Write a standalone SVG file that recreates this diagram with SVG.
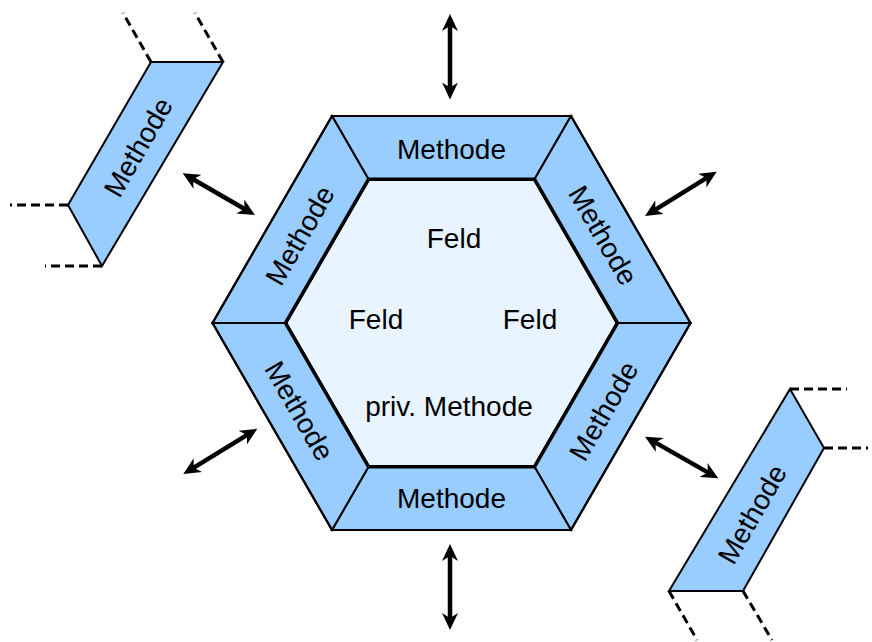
<svg xmlns="http://www.w3.org/2000/svg" width="872" height="642" viewBox="0 0 872 642">
<style>
.band{fill:#99ccff;stroke:#000;stroke-width:2;stroke-linejoin:miter}
.core{fill:#e8f4ff;stroke:#000;stroke-width:3.5;stroke-linejoin:miter}
.outline{fill:none;stroke:#000;stroke-width:2.2;stroke-linejoin:miter}
.lbl{font-family:"Liberation Sans",Arial,sans-serif;font-size:28px;fill:#000;text-anchor:middle}
.dash{fill:none;stroke:#000;stroke-width:3;stroke-dasharray:9 5}
.arrow{fill:none;stroke:#000;stroke-width:4.5;marker-start:url(#ah);marker-end:url(#ah)}
</style>
<defs>
<marker id="ah" viewBox="0 0 17 16" refX="10" refY="8" markerWidth="17" markerHeight="16" markerUnits="userSpaceOnUse" orient="auto-start-reverse">
<path d="M17,8 L0,0 L5,8 L0,16 Z" fill="#000"/>
</marker>
</defs>
<rect width="872" height="642" fill="#fff"/>
<g id="core">
<polygon class="core" points="368.5,179.2 534.5,179.2 617.5,323 534.5,466.8 368.5,466.8 285.5,323"/>
<text class="lbl" x="454" y="248">Feld</text>
<text class="lbl" x="376" y="329">Feld</text>
<text class="lbl" x="530" y="329">Feld</text>
<text class="lbl" x="449" y="416">priv. Methode</text>
</g>
<g id="band-top">
<polygon class="band" points="332,116 571,116 534.5,179.2 368.5,179.2"/>
<text class="lbl" transform="translate(451.5,148)" y="11">Methode</text>
</g>
<g id="band-upper-right">
<polygon class="band" points="571,116 690.5,323 617.5,323 534.5,179.2"/>
<text class="lbl" transform="translate(603.4,235.3) rotate(60)" y="10">Methode</text>
</g>
<g id="band-lower-right">
<polygon class="band" points="690.5,323 571,530 534.5,466.8 617.5,323"/>
<text class="lbl" transform="translate(603.4,410.7) rotate(-60)" y="10">Methode</text>
</g>
<g id="band-bottom">
<polygon class="band" points="571,530 332,530 368.5,466.8 534.5,466.8"/>
<text class="lbl" transform="translate(451.5,498.4)" y="10">Methode</text>
</g>
<g id="band-lower-left">
<polygon class="band" points="332,530 212.5,323 285.5,323 368.5,466.8"/>
<text class="lbl" transform="translate(299.6,410.7) rotate(60)" y="10">Methode</text>
</g>
<g id="band-upper-left">
<polygon class="band" points="212.5,323 332,116 368.5,179.2 285.5,323"/>
<text class="lbl" transform="translate(299.6,235.3) rotate(-60)" y="10">Methode</text>
</g>
<polygon class="outline" points="332,116 571,116 690.5,323 571,530 332,530 212.5,323"/>
<polygon class="core" style="fill:none" points="368.5,179.2 534.5,179.2 617.5,323 534.5,466.8 368.5,466.8 285.5,323"/>
<g id="ext-left">
<polygon class="band" points="151,62 223,62 102,266 68,205"/>
<text class="lbl" transform="translate(138,147) rotate(-60)" y="10">Methode</text>
</g>
<g id="ext-right">
<polygon class="band" points="790,389 824,448 743,591 669,591"/>
<text class="lbl" transform="translate(752,514) rotate(-60)" y="10">Methode</text>
</g>
<g id="connectors">
<line class="arrow" x1="450" y1="21" x2="450" y2="92.5"/>
<line class="arrow" x1="450" y1="551" x2="450" y2="623"/>
<line class="arrow" x1="188.8" y1="176.8" x2="248.9" y2="211.5"/>
<line class="arrow" x1="651" y1="212.3" x2="710.7" y2="175.4"/>
<line class="arrow" x1="189.3" y1="470.3" x2="251.3" y2="432.4"/>
<line class="arrow" x1="651.1" y1="440.1" x2="712.2" y2="474.9"/>
<path class="dash" d="M151,62 L123,13 M223,62 L195,13 M68,205 L10,205 M102,266 L45,266"/>
<path class="dash" d="M790,389 L847,389 M824,448 L868,448 M669,591 L697,640 M743,591 L772,640"/>
</g>
</svg>
